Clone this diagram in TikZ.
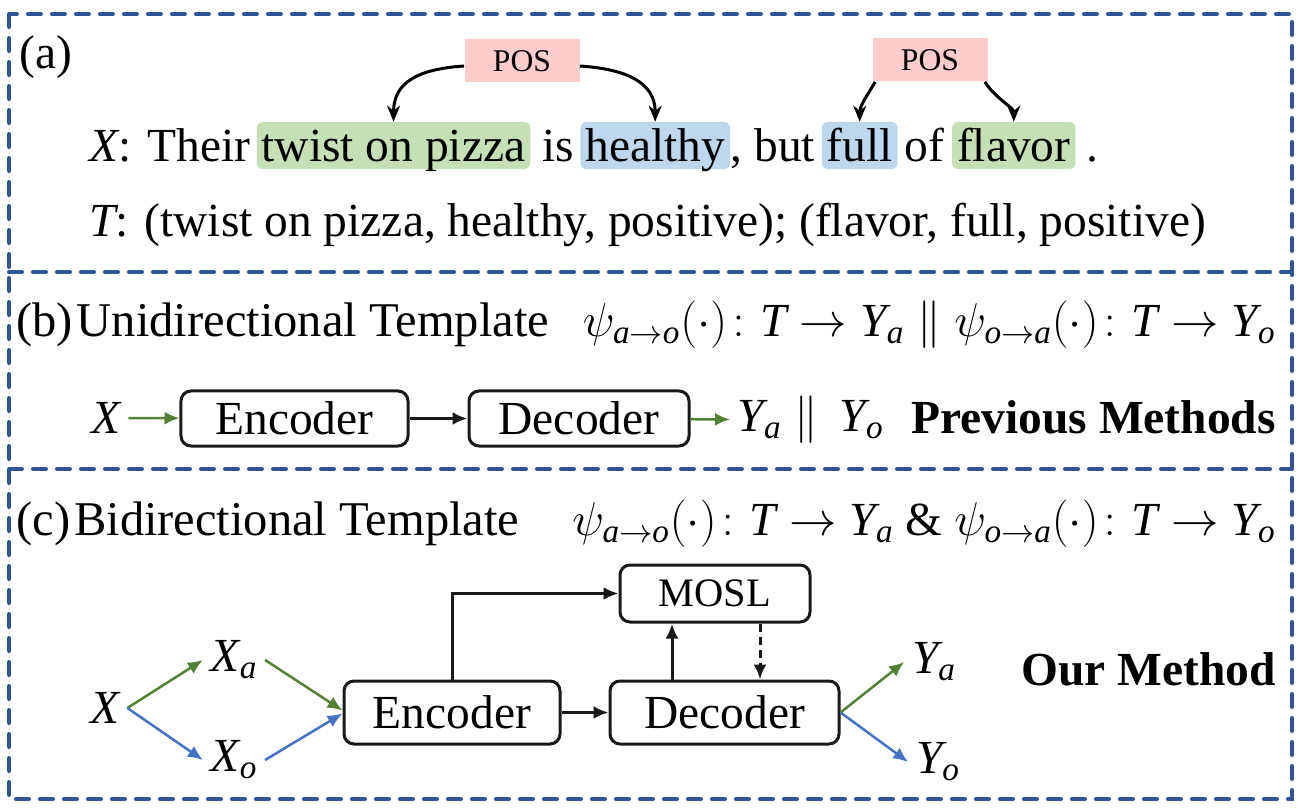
\RequirePackage{fix-cm}
\documentclass[tikz,border=0pt]{standalone}
\usepackage{amsmath}
\usepackage{fontspec}
\setmainfont{Liberation Serif}
\usetikzlibrary{positioning,arrows.meta}
\definecolor{fblue}{HTML}{2F5597}
\definecolor{hlgreen}{HTML}{C5E0B4}
\definecolor{hlblue}{HTML}{BDD7EE}
\definecolor{posred}{HTML}{FFCCCC}
\definecolor{agreen}{HTML}{548235}
\definecolor{ablue}{HTML}{4472C4}
\newcommand{\mvar}[1]{\mathit{#1}}
\tikzset{
  dframe/.style={draw=fblue, line width=0.8mm, line cap=round, dash pattern=on 2.6mm off 2.2mm},
  txt/.style={inner sep=0pt, font=\fontsize{27}{32}\selectfont},
  title/.style={inner sep=0pt, font=\fontsize{27.6}{32}\selectfont},
  bold/.style={txt, font=\fontsize{27}{32}\selectfont\bfseries},
  hl/.style={txt, rounded corners=1.2mm, inner xsep=1mm, text height=8mm, text depth=1.4mm},
  posbox/.style={fill=posred, minimum width=23mm, minimum height=8.6mm, inner sep=0pt, font=\fontsize{18}{20}\selectfont},
  box/.style={draw=black!90, line width=0.6mm, rounded corners=2mm, font=\fontsize{27}{30}\selectfont, minimum height=11mm, inner sep=0pt},
  var/.style={txt, inner sep=1.5mm},
  arr/.style={-{Latex[length=3mm,width=2.6mm]}, line width=0.6mm, black!90},
  garr/.style={arr, agreen, line width=0.5mm},
  barr/.style={arr, ablue, line width=0.5mm},
  curvarr/.style={-{Stealth[length=3.2mm,width=2.6mm]}, line width=0.6mm},
}
\begin{document}
\begin{tikzpicture}[x=0.2mm, y=-0.2mm, node distance=1.2mm]
  \useasboundingbox (0,0) rectangle (1316,811);
  \draw[dframe] (9,14) rectangle (1292,799);
  \draw[dframe] (9,272) -- (1292,272);
  \draw[dframe] (9,469) -- (1292,469);

  % (a)
  \node[txt] (la) at (46,57) {(a)};
  \node[posbox] (pos1) at (522,61) {POS};
  \node[posbox] (pos2) at (930,60) {POS};
  \node[txt, anchor=base west] (xs) at (89,162) {$\mvar{X}$: Their};
  \node[hl, fill=hlgreen, base right=of xs] (tw) {twist on pizza};
  \node[txt, base right=2.2mm of tw] (is) {is};
  \node[hl, fill=hlblue, base right=of is] (he) {healthy};
  \node[txt, base right=0mm of he] (but) {, but};
  \node[hl, fill=hlblue, base right=of but] (fu) {full};
  \node[txt, base right=of fu] (of) {of};
  \node[hl, fill=hlgreen, base right=1.5mm of of] (fl) {flavor};
  \node[txt, base right=2mm of fl] (dot) {.};
  \node[txt, anchor=base west] (tl) at (89,237) {$\mvar{T}$: (twist on pizza, healthy, positive); (flavor, full, positive)};
  \draw[curvarr] ([yshift=-1mm]pos1.west) .. controls +(-45,3) and +(0,-40) .. (tw.north);
  \draw[curvarr] ([yshift=-1mm]pos1.east) .. controls +(45,3) and +(0,-40) .. (he.north);
  \draw[curvarr] ([xshift=0.6mm]pos2.south west) .. controls +(-8,14) and +(0,-16) .. (fu.north);
  \draw[curvarr] ([xshift=-0.6mm]pos2.south east) .. controls +(10,16) and +(0,-14) .. (fl.north);

  % (b)
  \node[title, anchor=base west] (tb) at (16,336) {(b)\hspace{0.8mm}Unidirectional Template};
  \node[txt, anchor=base east] (fb) at (1276,336) {$\psi_{\mvar{a}\rightarrow \mvar{o}}(\cdot)\colon \mvar{T}\rightarrow \mvar{Y}_{\mvar{a}} \parallel \psi_{\mvar{o}\rightarrow \mvar{a}}(\cdot)\colon \mvar{T}\rightarrow \mvar{Y}_{\mvar{o}}$};
  \node[var] (xb) at (106,418) {$\mvar{X}$};
  \node[box, minimum width=45.4mm] (enc1) at (294.5,418.5) {Encoder};
  \node[box, minimum width=44mm, right=11.6mm of enc1] (dec1) {Decoder};
  \node[var, anchor=west] (yb) at (730,420) {$\mvar{Y}_{\mvar{a}} \parallel\, \mvar{Y}_{\mvar{o}}$};
  \node[bold, anchor=base east] (prev) at (1276,433) {Previous Methods};
  \draw[garr] (xb) -- (enc1);
  \draw[arr] (enc1) -- (dec1);
  \draw[garr] (dec1) -- (yb);

  % (c)
  \node[title, anchor=base west] (tc) at (16,535) {(c)\hspace{0.8mm}Bidirectional Template};
  \node[txt, anchor=base east] (fc) at (1276,535) {$\psi_{\mvar{a}\rightarrow \mvar{o}}(\cdot)\colon \mvar{T}\rightarrow \mvar{Y}_{\mvar{a}}$ \& $\psi_{\mvar{o}\rightarrow \mvar{a}}(\cdot)\colon \mvar{T}\rightarrow \mvar{Y}_{\mvar{o}}$};
  \node[var] (xc) at (105,708) {$\mvar{X}$};
  \node[var] (xa) at (234,660) {$\mvar{X}_{\mvar{a}}$};
  \node[var] (xo) at (234,760) {$\mvar{X}_{\mvar{o}}$};
  \node[box, minimum width=43.2mm, minimum height=12.6mm] (enc2) at (452,712.5) {Encoder};
  \node[box, minimum width=45.8mm, minimum height=12.6mm, right=9.4mm of enc2] (dec2) {Decoder};
  \node[box, minimum width=38mm, minimum height=11.4mm, font=\fontsize{23}{26}\selectfont] (mosl) at (715,593.5) {MOSL};
  \node[var] (ya) at (934,662) {$\mvar{Y}_{\mvar{a}}$};
  \node[var] (yo) at (938,762) {$\mvar{Y}_{\mvar{o}}$};
  \node[bold, anchor=base east] (ours) at (1276,685) {Our Method};
  \draw[garr] (xc.east) -- (xa.west);
  \draw[barr] (xc.east) -- (xo.west);
  \draw[garr] (xa.east) -- ([yshift=0.4mm]enc2.west);
  \draw[barr] (xo.east) -- ([yshift=-0.2mm]enc2.west);
  \draw[arr] (enc2) -- (dec2);
  \draw[arr] (enc2.north) |- (mosl.west);
  \draw[arr] ([xshift=-10.5mm]dec2.north) -- ([xshift=-10.5mm]dec2.north |- mosl.south);
  \draw[arr, dash pattern=on 1.6mm off 1mm] ([xshift=7.1mm]dec2.north |- mosl.south) -- ([xshift=7.1mm]dec2.north);
  \draw[garr] (dec2.east) -- (ya.west);
  \draw[barr] (dec2.east) -- (yo.west);
\end{tikzpicture}
\end{document}
